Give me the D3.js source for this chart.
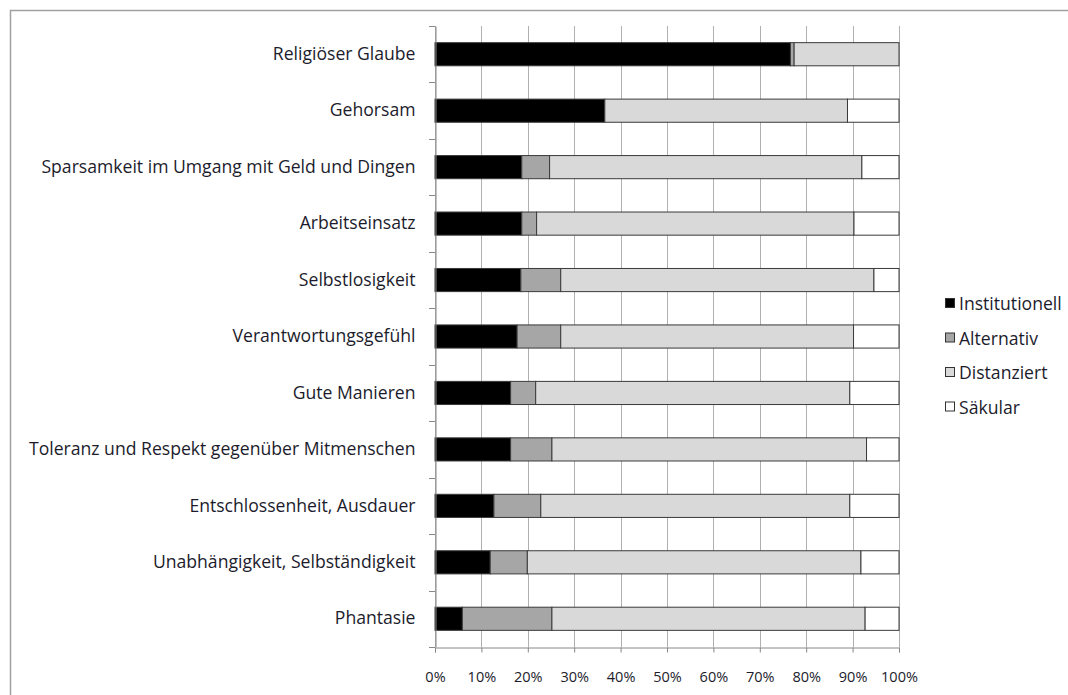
<!DOCTYPE html>
<html><head><meta charset="utf-8">
<script src="https://cdn.jsdelivr.net/npm/d3@7"></script>
<style>body{margin:0;background:#fff}svg{display:block}</style>
</head><body><svg id="c" width="1068" height="695"></svg>
<script>
const categories = ["Religiöser Glaube","Gehorsam","Sparsamkeit im Umgang mit Geld und Dingen","Arbeitseinsatz","Selbstlosigkeit","Verantwortungsgefühl","Gute Manieren","Toleranz und Respekt gegenüber Mitmenschen","Entschlossenheit, Ausdauer","Unabhängigkeit, Selbständigkeit","Phantasie"];
const seriesNames = ["Institutionell","Alternativ","Distanziert","Säkular"];
const institutionell = [76.6,36.6,18.7,18.7,18.5,17.7,16.3,16.3,12.7,11.9,5.9];
const alternativ     = [0.8,0.0,6.0,3.2,8.6,9.4,5.4,8.9,10.1,8.0,19.3];
const distanziert    = [22.6,52.3,67.3,68.4,67.5,63.1,67.7,67.8,66.6,71.9,67.5];
const saekular       = [0.0,11.1,8.0,9.7,5.4,9.8,10.6,7.0,10.6,8.2,7.3];
const colors = ["#000000","#a6a6a6","#d9d9d9","#ffffff"];
const tickValues = [0,10,20,30,40,50,60,70,80,90,100];

const rows = categories.map((c,i)=>({cat:c, Institutionell:institutionell[i], Alternativ:alternativ[i], Distanziert:distanziert[i], "Säkular":saekular[i]}));
const stack = d3.stack().keys(seriesNames)(rows);

const svg = d3.select("#c");
const font = "'Open Sans', sans-serif";
const txt = "#1c1c2c";
svg.append("rect").attr("x",10.5).attr("y",10.5).attr("width",1070).attr("height",700).attr("fill","#fff").attr("stroke","#a0a0a0").attr("stroke-width",1.5);

const x = d3.scaleLinear().domain([0,100]).range([435,899]);
const y = d3.scaleBand().domain(categories).range([26,647]).paddingInner(0.59).paddingOuter(0.295);

svg.append("g").selectAll("line").data(tickValues).join("line")
  .attr("x1",d=>Math.round(x(d))+0.5).attr("x2",d=>Math.round(x(d))+0.5)
  .attr("y1",26).attr("y2",647).attr("stroke","#b0b0b0").attr("stroke-width",1);

svg.append("g").selectAll("g").data(stack).join("g")
  .attr("fill",(d,i)=>colors[i])
  .selectAll("rect").data(d=>d).join("rect")
  .attr("x",d=>x(d[0])).attr("width",d=>x(d[1])-x(d[0]))
  .attr("y",d=>y(d.data.cat)).attr("height",y.bandwidth())
  .attr("stroke",d=>(d[1]-d[0])>0?"#3a3a3a":"none").attr("stroke-width",1);

const xAxis = d3.axisBottom(x).tickValues(tickValues).tickFormat(d=>d+"%").tickSize(5).tickPadding(19);
const gx = svg.append("g").attr("transform","translate(0,647.5)").call(xAxis);
gx.select(".domain").attr("stroke","#888");
gx.selectAll(".tick line").attr("stroke","#888");
gx.selectAll("text").attr("font-family",font).attr("font-size",14.5).attr("fill",txt);

const yAxis = d3.axisLeft(y).tickSize(0).tickPadding(20);
const gy = svg.append("g").attr("transform","translate(435.5,0)").call(yAxis);
gy.select(".domain").attr("stroke","#888");
gy.selectAll("text").attr("font-family",font).attr("font-size",17.6).attr("fill",txt);
const bounds = d3.range(categories.length+1).map(i=>26 + i*(621/categories.length));
svg.append("g").selectAll("line").data(bounds).join("line")
  .attr("x1",429).attr("x2",435).attr("y1",d=>Math.round(d)+0.5).attr("y2",d=>Math.round(d)+0.5)
  .attr("stroke","#888");

const lg = svg.append("g").selectAll("g").data(seriesNames).join("g")
  .attr("transform",(d,i)=>`translate(945,${304 + i*34.5})`);
lg.append("rect").attr("x",0.5).attr("y",-5.5).attr("width",9).attr("height",9)
  .attr("fill",(d,i)=>colors[i]).attr("stroke","#333");
lg.append("text").attr("x",14).attr("y",0).attr("dy","0.35em").text(d=>d)
  .attr("font-family",font).attr("font-size",17.6).attr("fill",txt);
</script></body></html>
